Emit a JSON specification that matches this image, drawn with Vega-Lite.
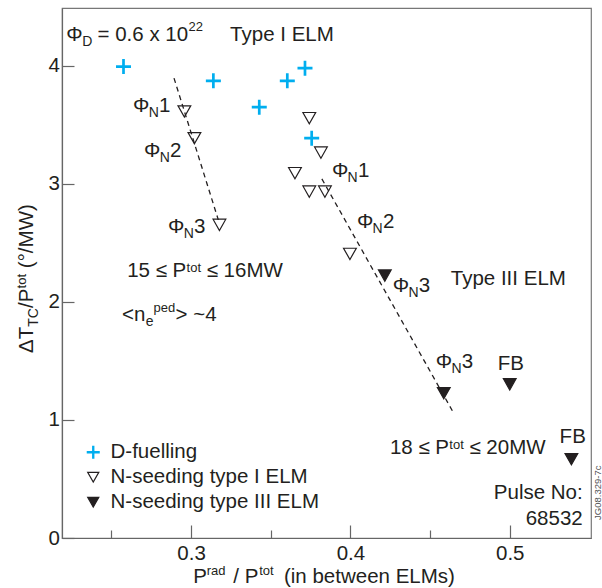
{
  "$schema": "https://vega.github.io/schema/vega-lite/v6.json",
  "width": 529,
  "height": 530,
  "autosize": {"type": "none"},
  "padding": {"left": 62, "top": 8, "right": 11, "bottom": 50},
  "config": {
    "font": "Liberation Sans",
    "view": {"stroke": "#777", "strokeWidth": 1.2},
    "text": {"font": "Liberation Sans", "color": "#231f20"}
  },
  "datasets": {
    "points": [
      {"series": "D-fuelling", "x": 0.2576, "y": 3.994},
      {"series": "D-fuelling", "x": 0.3140, "y": 3.873},
      {"series": "D-fuelling", "x": 0.3428, "y": 3.650},
      {"series": "D-fuelling", "x": 0.3604, "y": 3.873},
      {"series": "D-fuelling", "x": 0.3715, "y": 3.980},
      {"series": "D-fuelling", "x": 0.3757, "y": 3.387},
      {"series": "N-seeding type I ELM", "x": 0.2958, "y": 3.613},
      {"series": "N-seeding type I ELM", "x": 0.3021, "y": 3.387},
      {"series": "N-seeding type I ELM", "x": 0.3178, "y": 2.653},
      {"series": "N-seeding type I ELM", "x": 0.3652, "y": 3.091},
      {"series": "N-seeding type I ELM", "x": 0.3742, "y": 3.557},
      {"series": "N-seeding type I ELM", "x": 0.3815, "y": 3.265},
      {"series": "N-seeding type I ELM", "x": 0.3742, "y": 2.935},
      {"series": "N-seeding type I ELM", "x": 0.3840, "y": 2.935},
      {"series": "N-seeding type I ELM", "x": 0.3997, "y": 2.407},
      {"series": "N-seeding type III ELM", "x": 0.4216, "y": 2.223},
      {"series": "N-seeding type III ELM", "x": 0.4586, "y": 1.226},
      {"series": "N-seeding type III ELM", "x": 0.5000, "y": 1.302},
      {"series": "N-seeding type III ELM", "x": 0.5387, "y": 0.667}
    ],
    "lines": [
      {"seg": "a", "x": 0.2893, "y": 3.896},
      {"seg": "a", "x": 0.3171, "y": 2.695},
      {"seg": "b", "x": 0.3821, "y": 3.042},
      {"seg": "b", "x": 0.4651, "y": 1.051}
    ],
    "main": [
      {"x": 0.2216, "y": 4.212, "t": "Φ"},
      {"x": 0.2413, "y": 4.212, "t": "= 0.6 x 10"},
      {"x": 0.3245, "y": 4.212, "t": "Type I ELM"},
      {"x": 0.2636, "y": 3.610, "t": "Φ"},
      {"x": 0.2799, "y": 3.610, "t": "1"},
      {"x": 0.2705, "y": 3.231, "t": "Φ"},
      {"x": 0.2868, "y": 3.231, "t": "2"},
      {"x": 0.2856, "y": 2.585, "t": "Φ"},
      {"x": 0.3019, "y": 2.585, "t": "3"},
      {"x": 0.2599, "y": 2.212, "t": "15 ≤ P"},
      {"x": 0.3098, "y": 2.212, "t": "≤ 16MW"},
      {"x": 0.2567, "y": 1.839, "t": "<n"},
      {"x": 0.2903, "y": 1.839, "t": "> ~4"},
      {"x": 0.3884, "y": 3.059, "t": "Φ"},
      {"x": 0.4047, "y": 3.059, "t": "1"},
      {"x": 0.4041, "y": 2.627, "t": "Φ"},
      {"x": 0.4204, "y": 2.627, "t": "2"},
      {"x": 0.4266, "y": 2.085, "t": "Φ"},
      {"x": 0.4429, "y": 2.085, "t": "3"},
      {"x": 0.4630, "y": 2.144, "t": "Type III ELM"},
      {"x": 0.4536, "y": 1.441, "t": "Φ"},
      {"x": 0.4699, "y": 1.441, "t": "3"},
      {"x": 0.4925, "y": 1.424, "t": "FB"},
      {"x": 0.5313, "y": 0.805, "t": "FB"},
      {"x": 0.4248, "y": 0.712, "t": "18 ≤ P"},
      {"x": 0.4747, "y": 0.712, "t": "≤ 20MW"},
      {"x": 0.3013, "y": -0.381, "t": "P"},
      {"x": 0.3265, "y": -0.381, "t": "/ P"},
      {"x": 0.3583, "y": -0.381, "t": "(in between ELMs)"}
    ],
    "sub": [
      {"x": 0.2317, "y": 4.170, "t": "D"},
      {"x": 0.2734, "y": 3.568, "t": "N"},
      {"x": 0.2803, "y": 3.189, "t": "N"},
      {"x": 0.2954, "y": 2.543, "t": "N"},
      {"x": 0.3982, "y": 3.017, "t": "N"},
      {"x": 0.4139, "y": 2.585, "t": "N"},
      {"x": 0.4364, "y": 2.043, "t": "N"},
      {"x": 0.4634, "y": 1.399, "t": "N"},
      {"x": 0.2715, "y": 1.797, "t": "e"}
    ],
    "sup": [
      {"x": 0.2984, "y": 4.297, "t": "22"},
      {"x": 0.2972, "y": 2.254, "t": "tot"},
      {"x": 0.2765, "y": 1.915, "t": "ped"},
      {"x": 0.4621, "y": 0.754, "t": "tot"},
      {"x": 0.3098, "y": -0.314, "t": "rad"},
      {"x": 0.3428, "y": -0.314, "t": "tot"}
    ],
    "right": [
      {"x": 0.5458, "y": 0.331, "t": "Pulse No:"},
      {"x": 0.5458, "y": 0.110, "t": "68532"}
    ],
    "ymain": [
      {"x": 0.2009, "y": 1.568, "t": "ΔT"},
      {"x": 0.2009, "y": 1.949, "t": "/P"},
      {"x": 0.2009, "y": 2.286, "t": "(°/MW)"}
    ],
    "ysub": [
      {"x": 0.2041, "y": 1.790, "t": "TC"}
    ],
    "ysup": [
      {"x": 0.1966, "y": 2.114, "t": "tot"}
    ],
    "tag": [
      {"x": 0.5571, "y": 0.153, "t": "JG08.329-7c"}
    ]
  },
  "resolve": {"axis": {"x": "independent", "y": "independent"}},
  "layer": [
    {
      "data": {"name": "points"},
      "mark": {"type": "point", "size": 225, "strokeWidth": 1.2, "opacity": 1},
      "encoding": {
        "x": {"field": "x", "type": "quantitative",
          "scale": {"domain": [0.219, 0.551], "nice": false, "zero": false},
          "axis": {"orient": "bottom", "values": [0.3, 0.4, 0.5], "format": ".1f", "title": null, "grid": false, "tickSize": -13, "tickWidth": 1.2, "tickColor": "#666", "domainColor": "#666", "domainWidth": 1.2, "labelFontSize": 20.5, "labelFont": "Liberation Sans", "labelColor": "#231f20", "labelPadding": 18.5, "labelFlush": false, "labelOverlap": false}},
        "y": {"field": "y", "type": "quantitative",
          "scale": {"domain": [0, 4.49], "nice": false, "zero": false},
          "axis": {"orient": "left", "values": [0, 1, 2, 3, 4], "format": "d", "title": null, "grid": false, "tickSize": -12, "tickWidth": 1.2, "tickColor": "#666", "domainColor": "#666", "domainWidth": 1.2, "labelFontSize": 20.5, "labelFont": "Liberation Sans", "labelColor": "#231f20", "labelPadding": 14.5, "labelFlush": false, "labelOverlap": false}},
        "shape": {"field": "series", "type": "nominal",
          "scale": {"domain": ["D-fuelling", "N-seeding type I ELM", "N-seeding type III ELM"],
            "range": ["M-1,-0.18H-0.18V-1H0.18V-0.18H1V0.18H0.18V1H-0.18V0.18H-1Z", "M-0.85,-0.75L0.85,-0.75L0,0.75Z", "M-0.85,-0.75L0.85,-0.75L0,0.75Z"]},
          "legend": {"orient": "none", "legendX": 21, "legendY": 434, "title": null, "padding": 0, "labelFontSize": 20.5, "labelFont": "Liberation Sans", "labelColor": "#231f20", "labelLimit": 400, "symbolSize": 170, "symbolStrokeWidth": 1.2, "labelOffset": 7, "rowPadding": 4}},
        "fill": {"field": "series", "type": "nominal",
          "scale": {"domain": ["D-fuelling", "N-seeding type I ELM", "N-seeding type III ELM"], "range": ["#00aeef", "transparent", "#231f20"]}},
        "stroke": {"field": "series", "type": "nominal",
          "scale": {"domain": ["D-fuelling", "N-seeding type I ELM", "N-seeding type III ELM"], "range": ["transparent", "#231f20", "#231f20"]}}
      }
    },
    {
      "data": {"name": "lines"},
      "mark": {"type": "line", "color": "#231f20", "strokeWidth": 1.3, "strokeDash": [5, 4]},
      "encoding": {
        "x": {"field": "x", "type": "quantitative",
          "axis": {"orient": "bottom", "values": [0.25, 0.35, 0.45], "labels": false, "domain": false, "grid": false, "title": null, "tickSize": -8, "tickWidth": 1.2, "tickColor": "#666"}},
        "y": {"field": "y", "type": "quantitative", "axis": null},
        "detail": {"field": "seg"}
      }
    },
    {
      "data": {"name": "main"},
      "mark": {"type": "text", "fontSize": 20.5, "align": "left", "baseline": "alphabetic"},
      "encoding": {
        "x": {"field": "x", "type": "quantitative", "axis": null},
        "y": {"field": "y", "type": "quantitative", "axis": null},
        "text": {"field": "t"}
      }
    },
    {
      "data": {"name": "sub"},
      "mark": {"type": "text", "fontSize": 14, "align": "left", "baseline": "alphabetic"},
      "encoding": {
        "x": {"field": "x", "type": "quantitative", "axis": null},
        "y": {"field": "y", "type": "quantitative", "axis": null},
        "text": {"field": "t"}
      }
    },
    {
      "data": {"name": "sup"},
      "mark": {"type": "text", "fontSize": 13, "align": "left", "baseline": "alphabetic"},
      "encoding": {
        "x": {"field": "x", "type": "quantitative", "axis": null},
        "y": {"field": "y", "type": "quantitative", "axis": null},
        "text": {"field": "t"}
      }
    },
    {
      "data": {"name": "right"},
      "mark": {"type": "text", "fontSize": 20.5, "align": "right", "baseline": "alphabetic"},
      "encoding": {
        "x": {"field": "x", "type": "quantitative", "axis": null},
        "y": {"field": "y", "type": "quantitative", "axis": null},
        "text": {"field": "t"}
      }
    },
    {
      "data": {"name": "ymain"},
      "mark": {"type": "text", "fontSize": 20.5, "align": "left", "baseline": "alphabetic", "angle": 270},
      "encoding": {
        "x": {"field": "x", "type": "quantitative", "axis": null},
        "y": {"field": "y", "type": "quantitative", "axis": null},
        "text": {"field": "t"}
      }
    },
    {
      "data": {"name": "ysub"},
      "mark": {"type": "text", "fontSize": 14, "align": "left", "baseline": "alphabetic", "angle": 270},
      "encoding": {
        "x": {"field": "x", "type": "quantitative", "axis": null},
        "y": {"field": "y", "type": "quantitative", "axis": null},
        "text": {"field": "t"}
      }
    },
    {
      "data": {"name": "ysup"},
      "mark": {"type": "text", "fontSize": 13, "align": "left", "baseline": "alphabetic", "angle": 270},
      "encoding": {
        "x": {"field": "x", "type": "quantitative", "axis": null},
        "y": {"field": "y", "type": "quantitative", "axis": null},
        "text": {"field": "t"}
      }
    },
    {
      "data": {"name": "tag"},
      "mark": {"type": "text", "fontSize": 9.5, "align": "left", "baseline": "alphabetic", "angle": 270, "color": "#555"},
      "encoding": {
        "x": {"field": "x", "type": "quantitative", "axis": null},
        "y": {"field": "y", "type": "quantitative", "axis": null},
        "text": {"field": "t"}
      }
    }
  ]
}
